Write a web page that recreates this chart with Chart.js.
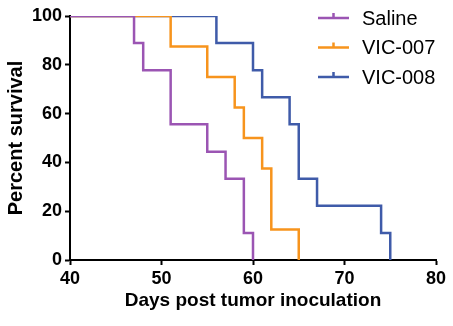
<!DOCTYPE html>
<html>
<head>
<meta charset="utf-8">
<script src="https://cdn.jsdelivr.net/npm/chart.js@4.4.1/dist/chart.umd.min.js"></script>
<style>
  html, body { margin: 0; padding: 0; background: #fff; }
  canvas { display: block; }
</style>
</head>
<body>
<canvas id="survival-chart" width="453" height="326"></canvas>
<script>
// Kaplan-Meier survival per group: day of each drop and the survival after it
const salineDays = [40, 47, 48, 51, 55, 57, 59, 60];
const salineSurvival = [100, 88.9, 77.8, 55.6, 44.4, 33.3, 11.1, 0];

const vic007Days = [40, 51, 55, 58, 59, 61, 62, 65];
const vic007Survival = [100, 87.5, 75, 62.5, 50, 37.5, 12.5, 0];

const vic008Days = [40, 56, 60, 61, 64, 65, 67, 74, 75];
const vic008Survival = [100, 88.9, 77.8, 66.7, 55.6, 33.3, 22.2, 11.1, 0];

const groupNames = ['Saline', 'VIC-007', 'VIC-008'];
const groupColors = ['#9b55b3', '#f7941d', '#3f5ba9'];

const xTicks = [40, 50, 60, 70, 80];
const yTicks = [0, 20, 40, 60, 80, 100];

const toPoints = (days, surv) => days.map((d, i) => ({ x: d, y: surv[i] }));

const series = [
    toPoints(salineDays, salineSurvival),
    toPoints(vic007Days, vic007Survival),
    toPoints(vic008Days, vic008Survival),
];

const FONT = '"Liberation Sans", Arial, sans-serif';

// legend with a small censor tick on each line sample
const stepLegend = {
    id: 'stepLegend',
    afterDraw(chart) {
        const ctx = chart.ctx;
        ctx.save();
        chart.data.datasets.forEach((ds, i) => {
            const y = 18 + i * 29.5;
            ctx.strokeStyle = ds.borderColor;
            ctx.lineWidth = 2.5;
            ctx.beginPath();
            ctx.moveTo(318, y);
            ctx.lineTo(349, y);
            ctx.moveTo(333.5, y);
            ctx.lineTo(333.5, y - 5);
            ctx.stroke();
            ctx.fillStyle = '#000';
            ctx.font = '20px ' + FONT;
            ctx.textBaseline = 'middle';
            ctx.fillText(ds.label, 362, y + 1);
        });
        ctx.restore();
    }
};

const tickGrid = {
    display: true,
    drawOnChartArea: false,
    drawTicks: true,
    tickLength: 5,
    tickColor: '#000',
    tickWidth: 2,
};

const config = {
    type: 'line',
    data: {
        datasets: series.map((pts, i) => ({
            label: groupNames[i],
            data: pts,
            borderColor: groupColors[i],
            borderWidth: 2.5,
            stepped: 'before',
            pointRadius: 0,
            fill: false,
        }))
    },
    options: {
        responsive: false,
        animation: false,
        layout: { padding: { left: 0, right: 17, top: 16, bottom: 14 } },
        plugins: {
            legend: { display: false },
            tooltip: { enabled: false },
        },
        scales: {
            x: {
                type: 'linear',
                min: 40,
                max: 80,
                afterBuildTicks: axis => { axis.ticks = xTicks.map(v => ({ value: v })); },
                afterFit: axis => { axis.height = 52; },
                grid: tickGrid,
                border: { color: '#000', width: 2 },
                ticks: { color: '#000', font: { family: FONT, size: 18, weight: 'bold' }, padding: 3, maxRotation: 0 },
                title: {
                    display: true,
                    text: 'Days post tumor inoculation',
                    color: '#000',
                    font: { family: FONT, size: 19, weight: 'bold' },
                    padding: { top: 0, bottom: 0 },
                },
            },
            y: {
                min: 0,
                max: 100,
                afterBuildTicks: axis => { axis.ticks = yTicks.map(v => ({ value: v })); },
                afterFit: axis => { axis.width = 70; },
                grid: tickGrid,
                border: { color: '#000', width: 2 },
                ticks: { color: '#000', font: { family: FONT, size: 18, weight: 'bold' }, padding: 3 },
                title: {
                    display: true,
                    text: 'Percent survival',
                    color: '#000',
                    font: { family: FONT, size: 20, weight: 'bold' },
                    padding: { top: 4, bottom: 0 },
                },
            },
        },
    },
    plugins: [stepLegend],
};

new Chart(document.getElementById('survival-chart').getContext('2d'), config);
</script>
</body>
</html>
